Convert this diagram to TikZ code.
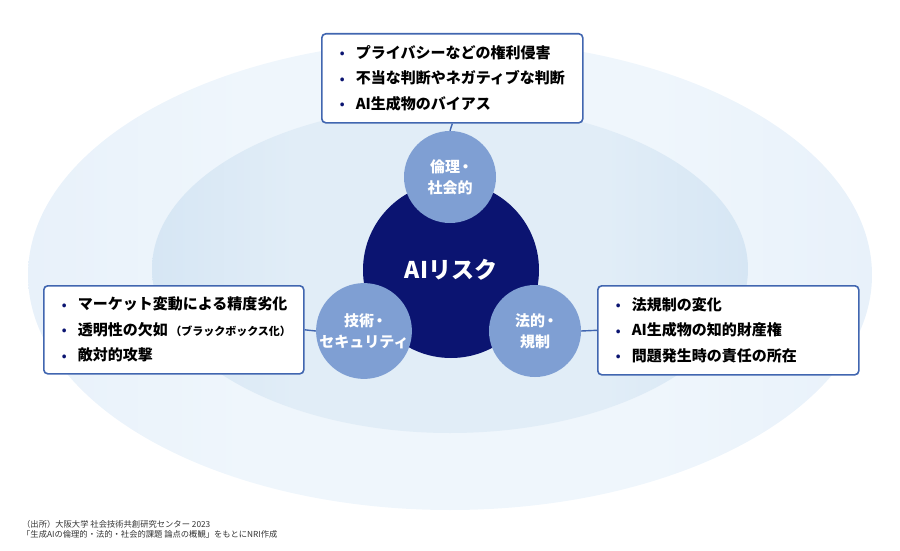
\documentclass[tikz,border=0pt]{standalone}
\usepackage{fontspec}
\setmainfont{Noto Sans CJK JP}
\newfontfamily\jp{Noto Sans CJK JP}
\definecolor{navy}{HTML}{0B1471}
\definecolor{subc}{HTML}{7F9FD3}
\definecolor{boxline}{HTML}{4166B0}
\definecolor{outmid}{HTML}{EFF6FC}
\definecolor{outedge}{HTML}{E8F1FA}
\definecolor{inmid}{HTML}{E1EDF7}
\definecolor{inedge}{HTML}{D6E6F4}
\definecolor{srcgray}{HTML}{333333}
\pgfdeclarehorizontalshading{outshade}{100bp}{color(0bp)=(outedge); color(25bp)=(outedge); color(38bp)=(outmid); color(62bp)=(outmid); color(75bp)=(outedge); color(100bp)=(outedge)}
\pgfdeclarehorizontalshading{inshade}{100bp}{color(0bp)=(inedge); color(25bp)=(inedge); color(37bp)=(inmid); color(63bp)=(inmid); color(75bp)=(inedge); color(100bp)=(inedge)}
\newcommand{\itm}{\makebox[16pt][l]{\textcolor{navy}{\fontsize{12}{12}\selectfont\raisebox{0.5pt}{•}}}}
\tikzset{
  x=1pt, y=-1pt,
  itembox/.style={draw=boxline, line width=1.6pt, rounded corners=4pt, fill=white,
    inner xsep=18pt, inner ysep=0pt, align=left, anchor=north west,
    font=\jp\bfseries\fontsize{15}{25.5}\selectfont, text=black},
  subcircle/.style={circle, fill=subc, inner sep=0pt, minimum size=92pt, align=center,
    text=white, font=\jp\bfseries\fontsize{15}{21}\selectfont},
  conn/.style={draw=boxline, line width=1.4pt},
  srctext/.style={anchor=west, inner sep=0pt, text=srcgray, font=\jp\fontsize{8.3}{9}\selectfont}
}
\begin{document}
\begin{tikzpicture}
\useasboundingbox (0,0) rectangle (900,551);
% background ellipses
\shade[shading=outshade] (450,275) ellipse [x radius=422pt, y radius=235pt];
\shade[shading=inshade] (450,269) ellipse [x radius=298pt, y radius=164pt];
% central circle
\node[circle, fill=navy, inner sep=0pt, minimum size=176pt, text=white,
  font=\jp\bfseries\fontsize{23}{23}\selectfont] (core) at (451,270) {AIリスク};
% sub circles
\node[subcircle] (eth) at (450,177) {倫理\kern-2pt・\kern-3pt\\社会的};
\node[subcircle] (tech) at (364,331) {技術\kern-2pt・\kern-3pt\\セキュリティ};
\node[subcircle] (law) at (535,331) {法的\kern-2pt・\kern-3pt\\規制};
% boxes
\node[itembox, minimum width=261pt, minimum height=89pt, text width=225pt] (topbox) at (321,33)
  {\itm プライバシーなどの権利侵害\\\itm 不当な判断やネガティブな判断\\\itm AI生成物のバイアス};
\node[itembox, minimum width=260pt, minimum height=88pt, text width=224pt] (leftbox) at (43,285)
  {\itm マーケット変動による精度劣化\\\itm 透明性の欠如\,{\fontsize{11}{11}\selectfont（ブラックボックス化）}\\\itm 敵対的攻撃};
\node[itembox, minimum width=261pt, minimum height=89pt, text width=225pt] (rightbox) at (597,285)
  {\itm 法規制の変化\\\itm AI生成物の知的財産権\\\itm 問題発生時の責任の所在};
% connectors
\draw[conn] (topbox.south) -- (eth.north);
\draw[conn] (leftbox.east) -- (tech.west);
\draw[conn] (law.east) -- (rightbox.west);
% source
\node[srctext] (src1) at (22,524) {（出所）大阪大学 社会技術共創研究センター 2023};
\node[srctext] (src2) at (22,534) {「生成AIの倫理的・法的・社会的課題 論点の概観」をもとにNRI作成};
\end{tikzpicture}
\end{document}
